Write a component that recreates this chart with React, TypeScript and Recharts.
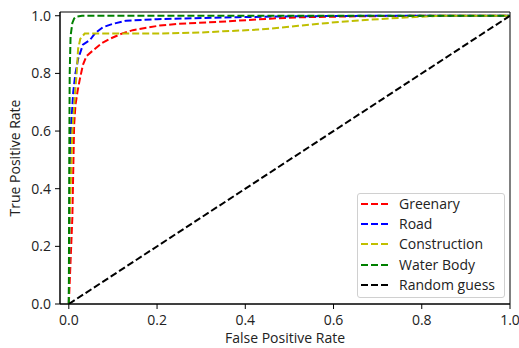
import { LineChart, Line, XAxis, YAxis, Legend, ReferenceArea } from 'recharts'

// ROC curves (false positive rate -> true positive rate)
const greenaryFpr = [0, 0.008, 0.012, 0.015, 0.02, 0.025, 0.032, 0.04, 0.055, 0.075, 0.093, 0.12, 0.145, 0.206, 0.247, 0.342, 0.456, 0.53, 0.65, 0.8, 1]
const greenaryTpr = [0, 0.3, 0.62, 0.69, 0.74, 0.78, 0.83, 0.86, 0.88, 0.905, 0.92, 0.938, 0.95, 0.966, 0.972, 0.979, 0.99, 0.995, 0.998, 1, 1]

const roadFpr = [0, 0.002, 0.0045, 0.01, 0.015, 0.021, 0.032, 0.048, 0.06, 0.077, 0.1, 0.13, 0.2, 0.38, 0.5, 0.7, 1]
const roadTpr = [0, 0.35, 0.6, 0.735, 0.8, 0.85, 0.9, 0.916, 0.94, 0.96, 0.972, 0.983, 0.988, 0.995, 0.998, 1, 1]

const constructionFpr = [0, 0.002, 0.008, 0.0136, 0.018, 0.021, 0.026, 0.036, 0.06, 0.1, 0.15, 0.229, 0.3, 0.35, 0.433, 0.52, 0.615, 0.728, 0.84, 1]
const constructionTpr = [0, 0.3, 0.6, 0.72, 0.805, 0.885, 0.92, 0.938, 0.938, 0.938, 0.938, 0.939, 0.942, 0.946, 0.952, 0.965, 0.979, 0.991, 1, 1]

const waterFpr = [0, 0.001, 0.002, 0.004, 0.008, 0.012, 0.017, 0.03, 0.1, 1]
const waterTpr = [0, 0.5, 0.8, 0.93, 0.975, 0.99, 0.997, 1, 1, 1]

const randomFpr = [0, 1]
const randomTpr = [0, 1]

const ticks = [0, 0.2, 0.4, 0.6, 0.8, 1.0]
const xDomain = [-0.02, 1]
const yDomain = [0, 1.013]

const toPoints = (fpr: number[], tpr: number[]) => fpr.map((f, i) => ({ fpr: f, tpr: tpr[i] }))

const series = [
  { name: 'Greenary', color: '#ff0000', data: toPoints(greenaryFpr, greenaryTpr) },
  { name: 'Road', color: '#0000ff', data: toPoints(roadFpr, roadTpr) },
  { name: 'Construction', color: '#bfbf00', data: toPoints(constructionFpr, constructionTpr) },
  { name: 'Water Body', color: '#008000', data: toPoints(waterFpr, waterTpr) },
  { name: 'Random guess', color: '#000000', data: toPoints(randomFpr, randomTpr) },
]

const font = '"Open Sans", sans-serif'
const tickStyle = { fill: '#222', fontSize: 14, fontFamily: font }
const dash = '7 3'

function LegendBox() {
  return (
    <div style={{
      width: 146, height: 103, border: '1px solid #d0d0d0', borderRadius: 3,
      background: 'rgba(255,255,255,0.8)', fontFamily: font, fontSize: 14, color: '#222',
    }}>
      {series.map((s, i) => (
        <div key={s.name} style={{ position: 'absolute', left: 4, top: 1 + i * 20.2, height: 20, display: 'flex', alignItems: 'center' }}>
          <svg width={28} height={4} style={{ display: 'block' }}>
            <line x1={0} y1={2} x2={28} y2={2} stroke={s.color} strokeWidth={2} strokeDasharray={dash} />
          </svg>
          <span style={{ marginLeft: 10, lineHeight: '20px', whiteSpace: 'nowrap' }}>{s.name}</span>
        </div>
      ))}
    </div>
  )
}

export default function App() {
  return (
    <div style={{ position: 'absolute', left: 0, top: 0, background: '#fff' }}>
      <LineChart width={519} height={348} margin={{ top: 12, right: 9, left: 0, bottom: 0 }}>
        <XAxis
          dataKey="fpr" type="number" domain={xDomain} ticks={ticks} allowDataOverflow
          tickFormatter={(v: number) => v.toFixed(1)}
          tick={tickStyle} tickSize={5} tickMargin={6}
          axisLine={{ stroke: '#000', strokeWidth: 1 }} tickLine={{ stroke: '#000' }}
          height={44}
          label={{ value: 'False Positive Rate', position: 'insideBottom', offset: 5, style: { fill: '#222', fontSize: 14, fontFamily: font } }}
        />
        <YAxis
          type="number" domain={yDomain} ticks={ticks} allowDataOverflow
          tickFormatter={(v: number) => v.toFixed(1)}
          tick={tickStyle} tickSize={5} tickMargin={4}
          axisLine={{ stroke: '#000', strokeWidth: 1 }} tickLine={{ stroke: '#000' }}
          width={60}
          label={{ value: 'True Positive Rate', angle: -90, position: 'insideLeft', offset: 15, style: { fill: '#222', fontSize: 14, fontFamily: font, textAnchor: 'middle' } }}
        />
        {/* full box frame like matplotlib spines */}
        <ReferenceArea x1={xDomain[0]} x2={xDomain[1]} y1={yDomain[0]} y2={yDomain[1]}
          fill="none" fillOpacity={0} stroke="#000" strokeWidth={1} ifOverflow="visible" />
        {series.map((s) => (
          <Line
            key={s.name} data={s.data} dataKey="tpr" name={s.name} type="linear"
            stroke={s.color} strokeWidth={2} strokeDasharray={dash}
            dot={false} activeDot={false} isAnimationActive={false}
          />
        ))}
        <Legend
          layout="vertical" align="center" verticalAlign="middle"
          wrapperStyle={{ left: 357, top: 193, width: 148, height: 105 }}
          content={() => <LegendBox />}
        />
      </LineChart>
    </div>
  )
}
